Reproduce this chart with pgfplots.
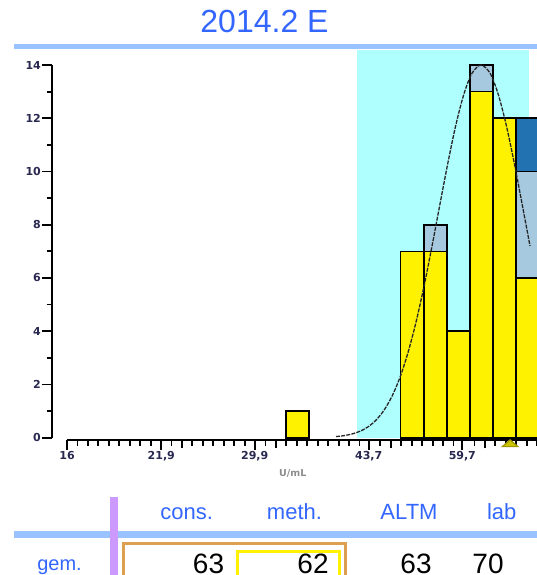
\documentclass[border=0pt]{standalone}
\usepackage{fontspec}
\setmainfont{Liberation Sans}
\newfontfamily\tickfont{DejaVu Sans}
\usepackage{pgfplots}
\pgfplotsset{compat=1.18}

\definecolor{titleblue}{RGB}{51,102,255}
\definecolor{lineblue}{RGB}{153,194,255}
\definecolor{shade}{RGB}{176,255,255}
\definecolor{lightbar}{RGB}{166,201,223}
\definecolor{darkbar}{RGB}{34,113,176}
\definecolor{purplebar}{RGB}{204,153,255}
\definecolor{boxorange}{RGB}{221,160,80}
\definecolor{ticktext}{RGB}{40,40,80}
\definecolor{markcol}{RGB}{160,150,0}

\begin{document}
\begin{tikzpicture}
\useasboundingbox (0pt,0pt) rectangle (537pt,-575pt);
\clip (0pt,0pt) rectangle (537pt,-575pt);

\begin{scope}[x=1pt,y=-1pt]
% title and rule
\node[anchor=base, text=titleblue, font=\fontsize{32}{36}\selectfont, inner sep=0pt] at (264.5,32.5) {2014.2 E};
\fill[lineblue] (13.7,44) rectangle (537,49);
% unit label
\node[text=black!45, font=\tickfont\bfseries\fontsize{9.5}{10}\selectfont, inner sep=0pt] at (292.8,473.8) {U/mL};
% table part
\fill[lineblue] (13.7,530.5) rectangle (537,537.5);
\fill[purplebar] (110,496.7) rectangle (118.3,580);
\foreach \t/\xx in {cons./186.6, meth./294.5, ALTM/409, lab/501.7}
  \node[anchor=base, text=titleblue, font=\fontsize{22}{24}\selectfont, inner sep=0pt] at (\xx,519.4) {\t};
\node[anchor=base, text=titleblue, font=\fontsize{20}{24}\selectfont, inner sep=0pt] at (59.5,570.5) {gem.};
\draw[boxorange, line width=3pt] (123.1,543.1) rectangle (345.1,600);
\draw[yellow, line width=3.5pt] (237.3,551.7) rectangle (339.6,600);
\node[anchor=base east, font=\fontsize{28}{30}\selectfont, inner sep=0pt] at (224.3,573) {63};
\node[anchor=base east, font=\fontsize{28}{30}\selectfont, inner sep=0pt] at (328.8,573) {62};
\node[anchor=base, font=\fontsize{28}{30}\selectfont, inner sep=0pt] at (416,573) {63};
\node[anchor=base, font=\fontsize{28}{30}\selectfont, inner sep=0pt] at (488,573) {70};
\end{scope}

\begin{axis}[
    at={(67pt,-437.7pt)}, anchor=south west,
    scale only axis, width=483.2pt, height=372.7pt,
    xmode=log, xmin=16, xmax=80, ymin=0, ymax=14,
    clip=false,
    axis x line*=bottom, axis y line*=left,
    axis x line shift=2.6pt, axis y line shift=15pt,
    axis line style={black, line width=2pt},
    tick align=outside,
    major tick length=10pt, minor tick length=5.5pt,
    every tick/.style={black, line width=1.8pt},
    xtick={16,21.9,29.9,43.7,59.7},
    xticklabels={16,{21,9},{29,9},{43,7},{59,7}},
    minor xtick={16.57,17.15,17.76,18.39,19.04,19.72,20.41,21.14,22.66,23.46,24.29,25.15,26.04,26.96,27.92,28.91,30.99,32.09,33.22,34.40,35.62,36.88,38.19,39.54,40.94,42.39,45.44,47.05,48.72,50.44,52.23,54.08,55.99,57.97,62.15,64.35,66.63,68.99,71.43,73.96,76.58,79.29},
    extra x ticks={23.46,32.09,47.05,64.35},
    extra x tick labels={},
    extra x tick style={major tick length=8pt},
    ytick={0,2,...,14},
    minor ytick={1,3,...,13},
    /pgf/number format/assume math mode=true,
    tick label style={text=ticktext, font=\tickfont\bfseries\fontsize{11}{12}\selectfont},
    xticklabel style={inner sep=1pt},
    yticklabel style={inner sep=1pt},
]
% reference range
\addplot[fill=shade, draw=none] coordinates {(42.1,0) (42.1,14.57) (74.6,14.57) (74.6,0)} -- cycle;

% yellow bars
\addplot[fill=yellow, draw=black, line width=1.7pt] coordinates {(33.2,0) (33.2,1) (35.8,1) (35.8,0)} -- cycle;
\addplot[fill=yellow, draw=black, line width=1.7pt] coordinates {(48.6,0) (48.6,7) (52.6,7) (52.6,0)} -- cycle;
\addplot[fill=yellow, draw=black, line width=1.7pt] coordinates {(52.6,0) (52.6,7) (56.7,7) (56.7,0)} -- cycle;
\addplot[fill=yellow, draw=black, line width=1.7pt] coordinates {(56.7,0) (56.7,4) (61.3,4) (61.3,0)} -- cycle;
\addplot[fill=yellow, draw=black, line width=1.7pt] coordinates {(61.3,0) (61.3,13) (66.1,13) (66.1,0)} -- cycle;
\addplot[fill=yellow, draw=black, line width=1.7pt] coordinates {(66.1,0) (66.1,12) (71.4,12) (71.4,0)} -- cycle;
\addplot[fill=yellow, draw=black, line width=1.7pt] coordinates {(71.4,0) (71.4,6) (77.1,6) (77.1,0)} -- cycle;
% light blue parts
\addplot[fill=lightbar, draw=black, line width=1.7pt] coordinates {(52.6,7) (52.6,8) (56.7,8) (56.7,7)} -- cycle;
\addplot[fill=lightbar, draw=black, line width=1.7pt] coordinates {(61.3,13) (61.3,14) (66.1,14) (66.1,13)} -- cycle;
\addplot[fill=lightbar, draw=black, line width=1.7pt] coordinates {(71.4,6) (71.4,10) (77.1,10) (77.1,6)} -- cycle;
% dark blue part
\addplot[fill=darkbar, draw=black, line width=1.7pt] coordinates {(71.4,10) (71.4,12) (77.1,12) (77.1,10)} -- cycle;

% fitted curve
\addplot[black!85, line width=1.3pt, smooth, dash pattern=on 4pt off 1.2pt] coordinates {
(39.20,0.042) (40.26,0.078) (41.35,0.140) (42.46,0.243) (43.61,0.408)
(44.79,0.662) (46.00,1.035) (47.24,1.562) (48.52,2.278) (49.82,3.202)
(51.17,4.347) (52.55,5.695) (53.97,7.203) (55.43,8.792) (56.93,10.356)
(58.46,11.775) (60.04,12.923) (61.66,13.689) (63.54,14.0) (65.48,13.689)
(67.24,12.923) (69.06,11.775) (70.92,10.356) (72.84,8.792) (74.80,7.203)};

% lab marker
\addplot[only marks, mark=triangle*, mark size=9pt, mark options={yscale=0.5, draw=markcol, fill=markcol!55!yellow, line width=1.2pt}] coordinates {(70,-0.25)};
\end{axis}
\end{tikzpicture}
\end{document}
